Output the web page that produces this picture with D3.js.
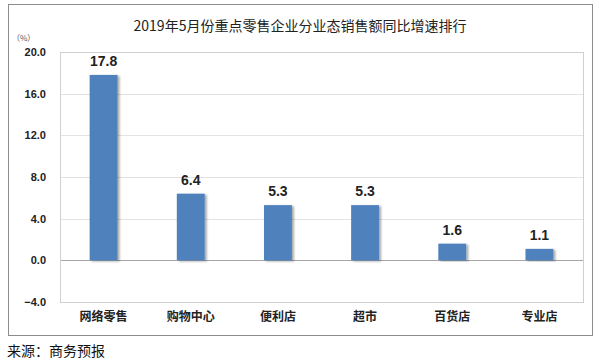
<!DOCTYPE html>
<html>
<head>
<meta charset="utf-8">
<script src="https://cdn.jsdelivr.net/npm/d3@7"></script>
<style>
body { margin: 0; background: #fff; }
svg { display: block; }
</style>
</head>
<body>
<div id="chart"></div>
<script>
var categories = ["网络零售", "购物中心", "便利店", "超市", "百货店", "专业店"];
var values = [17.8, 6.4, 5.3, 5.3, 1.6, 1.1];
var yTicks = [-4, 0, 4, 8, 12, 16, 20];

var svg = d3.select("#chart").append("svg")
  .attr("width", 599).attr("height", 362);

var defs = svg.append("defs");
var f = defs.append("filter").attr("id", "shadow")
  .attr("x", "-20%").attr("y", "-10%").attr("width", "150%").attr("height", "120%");
f.append("feDropShadow").attr("dx", 2).attr("dy", 1).attr("stdDeviation", 1.2)
  .attr("flood-color", "#000").attr("flood-opacity", 0.35);

// outer frame
svg.append("rect").attr("x", 8.5).attr("y", 4.5).attr("width", 584).attr("height", 331)
  .attr("fill", "#fff").attr("stroke", "#8c8c8c").attr("stroke-width", 1);

svg.append("text").text("2019年5月份重点零售企业分业态销售额同比增速排行")
  .attr("x", 300).attr("y", 31).attr("text-anchor", "middle")
  .attr("font-family", "'Noto Sans CJK SC', sans-serif").attr("font-size", 14)
  .attr("fill", "#222");

svg.append("text").text("（%）")
  .attr("x", 12).attr("y", 41)
  .attr("font-family", "'Noto Sans CJK SC', sans-serif").attr("font-size", 8)
  .attr("fill", "#555");

var plotL = 60, plotR = 583, plotT = 52, plotB = 302;

var x = d3.scaleBand().domain(categories).range([plotL, plotR]).paddingInner(0.68).paddingOuter(0.34);
var y = d3.scaleLinear().domain([-4, 20]).range([plotB, plotT]);

// gridlines
svg.append("g").selectAll("line").data(yTicks).enter().append("line")
  .attr("x1", plotL).attr("x2", plotR)
  .attr("y1", d => Math.round(y(d)) + 0.5).attr("y2", d => Math.round(y(d)) + 0.5)
  .attr("stroke", d => d === 0 ? "#a6a6a6" : "#e3e3e3").attr("stroke-width", 1);

// plot frame
svg.append("rect").attr("x", plotL + 0.5).attr("y", plotT + 0.5)
  .attr("width", plotR - plotL).attr("height", plotB - plotT)
  .attr("fill", "none").attr("stroke", "#d0d0d0");

// y axis
var yAxis = svg.append("g").attr("transform", "translate(" + plotL + ",0)")
  .call(d3.axisLeft(y).tickValues(yTicks).tickFormat(d3.format(".1f")).tickSize(0).tickPadding(14));
yAxis.select(".domain").remove();
yAxis.selectAll("text").attr("font-family", "Arial, 'Liberation Sans', sans-serif")
  .attr("font-size", 11).attr("font-weight", "bold").attr("fill", "#222");

// bars
svg.append("g").selectAll("rect").data(values).enter().append("rect")
  .attr("x", (d, i) => x(categories[i]))
  .attr("y", d => y(d))
  .attr("width", x.bandwidth())
  .attr("height", d => y(0) - y(d))
  .attr("fill", "#4f81bd")
  .attr("filter", "url(#shadow)");

// value labels
svg.append("g").selectAll("text").data(values).enter().append("text")
  .text(d => d.toFixed(1))
  .attr("x", (d, i) => x(categories[i]) + x.bandwidth() / 2)
  .attr("y", d => y(d) - 9)
  .attr("text-anchor", "middle")
  .attr("font-family", "Arial, 'Liberation Sans', sans-serif")
  .attr("font-size", 14).attr("font-weight", "bold").attr("fill", "#222");

// x labels
var xAxis = svg.append("g").attr("transform", "translate(0," + plotB + ")")
  .call(d3.axisBottom(x).tickSize(0).tickPadding(10));
xAxis.select(".domain").remove();
xAxis.selectAll("text").attr("font-family", "'Noto Sans CJK SC', sans-serif")
  .attr("font-size", 12).attr("font-weight", "bold").attr("fill", "#222");

svg.append("text").text("来源：商务预报")
  .attr("x", 7).attr("y", 356)
  .attr("font-family", "'Noto Sans CJK SC', sans-serif").attr("font-size", 14)
  .attr("fill", "#111");
</script>
</body>
</html>
